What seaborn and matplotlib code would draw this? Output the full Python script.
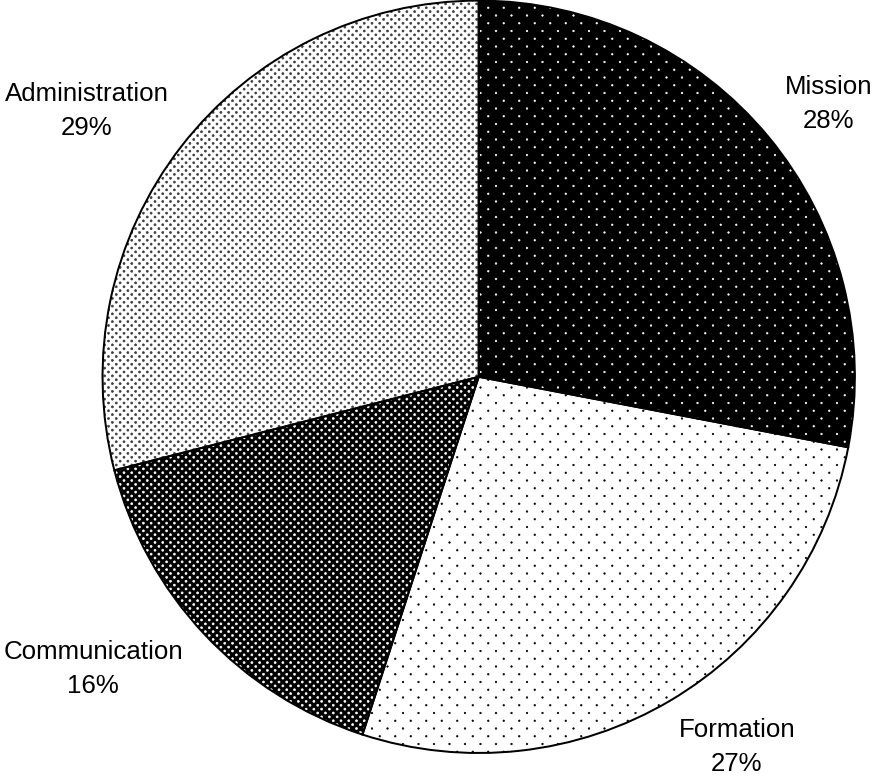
import numpy as np
import matplotlib
matplotlib.use("Agg")
import matplotlib.pyplot as plt
import matplotlib.hatch as mhatch
import seaborn as sns

# Budget split shown as a pie
categories = ["Mission", "Formation", "Communication", "Administration"]
shares = [28, 27, 16, 29]

# Styling for each slice: background, dot colour and dot density
face_colors = ["black", "white", "black", "white"]
dot_colors = ["white", "black", "white", "#3a3a3a"]
dot_patterns = [".", ".", "..", ".."]

# Label placement relative to each wedge's middle angle
label_radius = [1.18, 1.20, 1.285, 1.26]
label_turn = [-1.6, 4.3, -6.1, 3.6]


class DiamondDots(mhatch.Circles):
    """Filled dots on a diamond lattice (rows at half the column pitch)."""
    filled = True

    def __init__(self, hatch, density):
        count = hatch.count('.')
        self.num_rows = count * density
        self.size = 0.05 if count <= 1 else 0.065 * count
        super().__init__(hatch, density)
        if self.num_rows:
            n = self.num_rows
            self.num_shapes = (n + 1) * (n + 1) + n * n
            self.num_vertices = self.num_shapes * len(self.shape_vertices)

    def set_vertices_and_codes(self, vertices, codes):
        n = self.num_rows
        offset = 1.0 / n
        shape_vertices = self.shape_vertices * offset * self.size
        parts_v, parts_c = [], []
        for row in range(2 * n + 1):
            if row % 2 == 0:
                cols = np.linspace(0, 1, n + 1)
            else:
                cols = np.linspace(offset / 2, 1 - offset / 2, n)
            y = row * offset / 2
            for x in cols:
                parts_v.append(shape_vertices + [x, y])
                parts_c.append(self.shape_codes)
        np.concatenate(parts_v, out=vertices)
        np.concatenate(parts_c, out=codes)


mhatch._hatch_types = [DiamondDots if t is mhatch.SmallFilledCircles else t
                       for t in mhatch._hatch_types]

sns.set_theme(style="white")
plt.rcParams["font.family"] = ["Liberation Sans", "DejaVu Sans"]
plt.rcParams["hatch.linewidth"] = 0.5

DPI = 93
fig = plt.figure(figsize=(873.4 / DPI, 777.4 / DPI), dpi=DPI)
ax = fig.add_axes([0, 0, 1, 1])

# Dotted fills
wedges, _ = ax.pie(shares, startangle=90, counterclock=False,
                   colors=face_colors, hatch=dot_patterns,
                   wedgeprops=dict(linewidth=0))
for w, dc in zip(wedges, dot_colors):
    w.set_edgecolor(dc)
    w.set_linewidth(0)

# Black outlines on top
outlines, _ = ax.pie(shares, startangle=90, counterclock=False,
                     wedgeprops=dict(fill=False, edgecolor="black",
                                     linewidth=1.55))

for w, name, val, r, turn in zip(wedges, categories, shares,
                                 label_radius, label_turn):
    mid = np.deg2rad((w.theta1 + w.theta2) / 2 + turn)
    ax.text(r * np.cos(mid), r * np.sin(mid), f"{name}\n{val}%",
            ha="center", va="center", fontsize=20, color="black",
            linespacing=1.53)

R = 376.0
ax.set_xlim(-478.5 / R, (873 - 478.5) / R)
ax.set_ylim(-(777 - 377) / R, 377 / R)
ax.set_aspect("auto")
ax.axis("off")

fig.savefig("out.png", dpi=DPI)
